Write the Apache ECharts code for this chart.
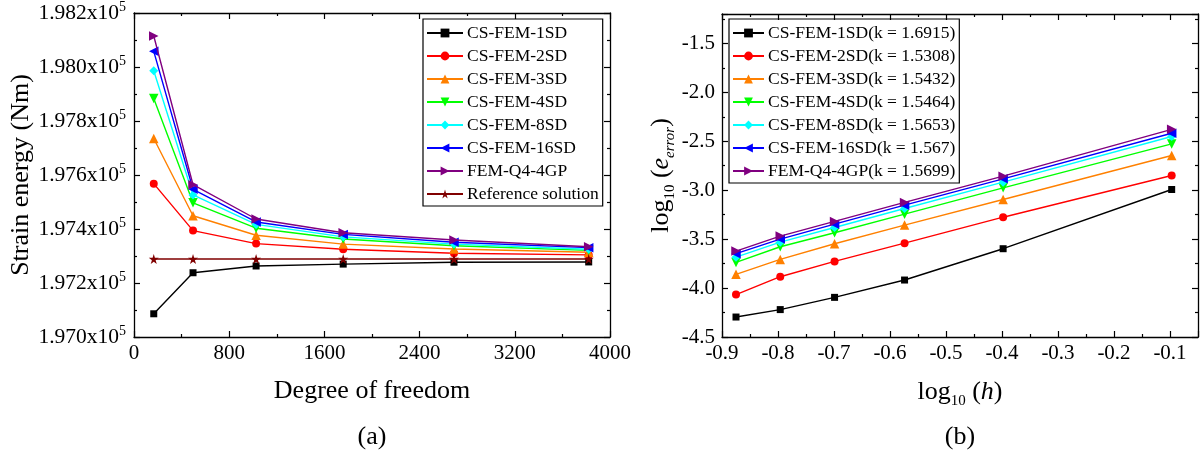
<!DOCTYPE html>
<html>
<head>
<meta charset="utf-8">
<script src="https://cdn.jsdelivr.net/npm/echarts@6/dist/echarts.min.js"></script>
<style>
  html, body { margin: 0; padding: 0; background: #fff; }
  #chart { width: 1202px; height: 458px; }
</style>
</head>
<body>
<div id="chart"></div>
<script>
// (a) strain energy versus degrees of freedom
const dof = [166, 496, 1026, 1758, 2689, 3821];
const energy1SD  = [197086, 197238, 197263, 197270, 197277, 197278];
const energy2SD  = [197568, 197394, 197346, 197325, 197310, 197304];
const energy3SD  = [197735, 197449, 197377, 197344, 197326, 197314];
const energy4SD  = [197883, 197497, 197403, 197363, 197338, 197321];
const energy8SD  = [197986, 197526, 197417, 197371, 197344, 197325];
const energy16SD = [198058, 197547, 197426, 197380, 197351, 197331];
const energyQ4   = [198115, 197564, 197437, 197386, 197359, 197334];
const energyRef  = [197289, 197289, 197289, 197289, 197289, 197289];

// (b) convergence of the energy error
const logH = [-0.875, -0.796, -0.699, -0.574, -0.398, -0.097];
const err1SD  = [-4.296, -4.220, -4.095, -3.918, -3.598, -2.993];
const err2SD  = [-4.067, -3.884, -3.728, -3.541, -3.276, -2.850];
const err3SD  = [-3.860, -3.707, -3.547, -3.357, -3.095, -2.646];
const err4SD  = [-3.738, -3.578, -3.435, -3.245, -2.976, -2.527];
const err8SD  = [-3.684, -3.531, -3.381, -3.187, -2.918, -2.452];
const err16SD = [-3.649, -3.500, -3.347, -3.153, -2.884, -2.418];
const errQ4   = [-3.622, -3.469, -3.319, -3.125, -2.857, -2.378];

const namesA = ['CS-FEM-1SD', 'CS-FEM-2SD', 'CS-FEM-3SD', 'CS-FEM-4SD',
                'CS-FEM-8SD', 'CS-FEM-16SD', 'FEM-Q4-4GP', 'Reference solution'];
const namesB = ['CS-FEM-1SD(k = 1.6915)', 'CS-FEM-2SD(k = 1.5308)', 'CS-FEM-3SD(k = 1.5432)',
                'CS-FEM-4SD(k = 1.5464)', 'CS-FEM-8SD(k = 1.5653)', 'CS-FEM-16SD(k = 1.567)',
                'FEM-Q4-4GP(k = 1.5699)'];

const FONT = 'Liberation Serif';
const colors = ['#000000', '#ff0000', '#ff8000', '#00ff00', '#00ffff', '#0000ff', '#800080', '#800000'];
const symbols = [
  'rect',
  'circle',
  'triangle',
  'path://M0,0L10,0L5,9Z',
  'diamond',
  'path://M9,0L9,10L0,5Z',
  'path://M0,0L9,5L0,10Z',
  'path://M50,0L61,35L98,35L68,57L79,91L50,70L21,91L32,57L2,35L39,35Z'
];
const symbolSizes = [7, 8, 9.5, 9.5, 9, 9.5, 9.5, 10];

const seriesA = [energy1SD, energy2SD, energy3SD, energy4SD, energy8SD, energy16SD, energyQ4, energyRef];
const seriesB = [err1SD, err2SD, err3SD, err4SD, err8SD, err16SD, errQ4];

function lineSeries(name, xs, ys, idx, axisIdx) {
  return {
    type: 'line',
    name: name,
    xAxisIndex: axisIdx,
    yAxisIndex: axisIdx,
    data: xs.map((x, i) => [x, ys[i]]),
    symbol: symbols[idx],
    symbolSize: symbolSizes[idx],
    showAllSymbol: true,
    color: colors[idx],
    lineStyle: { color: colors[idx], width: 1.4 },
    itemStyle: { color: colors[idx] },
    emphasis: { disabled: true },
    z: 3 + idx
  };
}

const axisLineStyle = { show: true, onZero: false, lineStyle: { color: '#000', width: 1.3 } };
const tickStyle = { show: true, inside: true, length: 6, lineStyle: { color: '#000', width: 1.2 } };
const minorStyle = { show: true, splitNumber: 2, length: 3, lineStyle: { color: '#000', width: 1.2 } };
const labelBase = { color: '#000', fontFamily: FONT, fontSize: 21 };

function frameAxis(base, position) {
  return Object.assign({}, base, {
    position: position,
    name: '',
    axisLabel: { show: false },
    splitLine: { show: false }
  });
}

// axis definitions for panel (a)
const xA = {
  type: 'value', gridIndex: 0, min: 0, max: 4000, interval: 800,
  axisLine: axisLineStyle, axisTick: tickStyle, minorTick: minorStyle,
  splitLine: { show: false },
  axisLabel: Object.assign({ margin: 6, formatter: v => String(v) }, labelBase),
  name: 'Degree of freedom', nameLocation: 'middle', nameGap: 41,
  nameTextStyle: { color: '#000', fontFamily: FONT, fontSize: 26 }
};
const yA = {
  type: 'value', gridIndex: 0, min: 197000, max: 198200, interval: 200,
  axisLine: axisLineStyle, axisTick: tickStyle, minorTick: minorStyle,
  splitLine: { show: false },
  axisLabel: {
    margin: 8,
    formatter: v => '{m|' + (v / 1e5).toFixed(3) + 'x10}{e|5}',
    rich: {
      m: { color: '#000', fontFamily: FONT, fontSize: 21.5, lineHeight: 25 },
      e: { color: '#000', fontFamily: FONT, fontSize: 14, lineHeight: 14, verticalAlign: 'top' }
    }
  },
  name: 'Strain energy (Nm)', nameLocation: 'middle', nameRotate: 90, nameGap: 98,
  nameTextStyle: { color: '#000', fontFamily: FONT, fontSize: 26 }
};

// axis definitions for panel (b)
const xB = {
  type: 'value', gridIndex: 1, min: -0.9, max: -0.05, interval: 0.1,
  axisLine: axisLineStyle, axisTick: tickStyle, minorTick: minorStyle,
  splitLine: { show: false },
  axisLabel: Object.assign({ margin: 6, showMaxLabel: false, formatter: v => v.toFixed(1) }, labelBase),
  name: '{n|log}{s|10}{n| (}{i|h}{n|)}', nameLocation: 'middle', nameGap: 38,
  nameTextStyle: {
    rich: {
      n: { color: '#000', fontFamily: FONT, fontSize: 26, lineHeight: 34 },
      i: { color: '#000', fontFamily: FONT, fontSize: 26, lineHeight: 34, fontStyle: 'italic' },
      s: { color: '#000', fontFamily: FONT, fontSize: 15, lineHeight: 15, verticalAlign: 'bottom' }
    }
  }
};
const yB = {
  type: 'value', gridIndex: 1, min: -4.5, max: -1.2, interval: 0.5,
  axisLine: axisLineStyle, axisTick: tickStyle, minorTick: minorStyle,
  splitLine: { show: false },
  axisLabel: Object.assign({ margin: 7, showMaxLabel: false, formatter: v => v.toFixed(1) }, labelBase),
  name: '{n|log}{s|10}{n| (}{i|e}{si|error}{n|)}', nameLocation: 'middle', nameRotate: 90, nameGap: 40,
  nameTextStyle: {
    rich: {
      n: { color: '#000', fontFamily: FONT, fontSize: 26, lineHeight: 34 },
      i: { color: '#000', fontFamily: FONT, fontSize: 26, lineHeight: 34, fontStyle: 'italic' },
      s: { color: '#000', fontFamily: FONT, fontSize: 15, lineHeight: 15, verticalAlign: 'bottom' },
      si: { color: '#000', fontFamily: FONT, fontSize: 15, lineHeight: 15, verticalAlign: 'bottom', fontStyle: 'italic' }
    }
  }
};

function legendBox(names, left, itemWidth) {
  return {
    data: names,
    orient: 'vertical',
    left: left,
    top: 19,
    padding: [5, 4, 3, 3],
    itemWidth: itemWidth,
    itemHeight: 11,
    itemGap: 5,
    borderColor: '#000',
    borderWidth: 1.2,
    selectedMode: false,
    textStyle: { color: '#000', fontFamily: FONT, fontSize: 17.5, lineHeight: 18, padding: [0, 0, 0, -1] }
  };
}

const series = [];
namesA.forEach((n, i) => series.push(lineSeries(n, dof, seriesA[i], i, 0)));
namesB.forEach((n, i) => series.push(lineSeries(n, logH, seriesB[i], i, 1)));

const option = {
  animation: false,
  backgroundColor: '#fff',
  grid: [
    { left: 134, top: 13, width: 476, height: 324 },
    { left: 722, top: 14, width: 476, height: 323 }
  ],
  xAxis: [xA, xB, frameAxis(xA, 'top'), frameAxis(xB, 'top')],
  yAxis: [yA, yB, frameAxis(yA, 'right'), frameAxis(yB, 'right')],
  legend: [legendBox(namesA, 423, 36), legendBox(namesB, 729, 31)],
  graphic: [
    { type: 'text', x: 372, y: 437, style: { text: '(a)', fill: '#000', font: '26px "Liberation Serif"', textAlign: 'center', textVerticalAlign: 'middle' } },
    { type: 'text', x: 960, y: 437, style: { text: '(b)', fill: '#000', font: '26px "Liberation Serif"', textAlign: 'center', textVerticalAlign: 'middle' } }
  ],
  series: series
};

const chart = echarts.init(document.getElementById('chart'), null, { renderer: 'canvas' });
chart.setOption(option);
</script>
</body>
</html>
